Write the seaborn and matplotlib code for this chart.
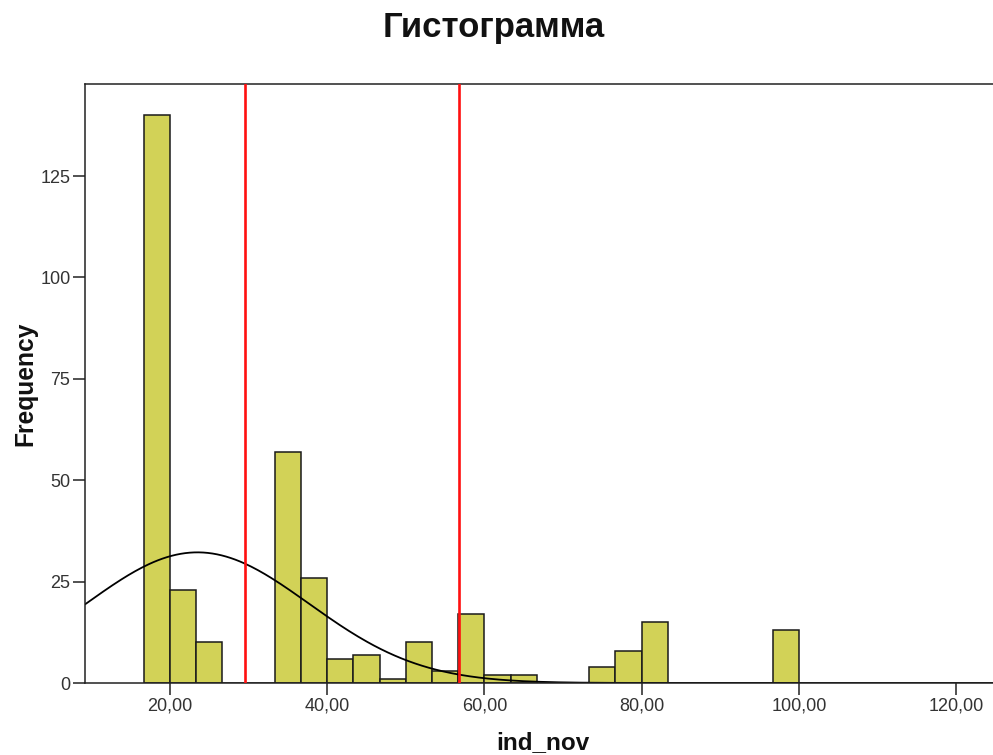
import numpy as np
import pandas as pd
import matplotlib
matplotlib.use("Agg")
import matplotlib.pyplot as plt
from matplotlib.ticker import FixedLocator
import seaborn as sns

# ---- data ----
bin_left = [16.667, 20.0, 23.333, 33.333, 36.667, 40.0, 43.333, 46.667, 50.0,
            53.333, 56.667, 60.0, 63.333, 73.333, 76.667, 80.0, 96.667]
counts = [140, 23, 10, 57, 26, 6, 7, 1, 10, 3, 17, 2, 2, 4, 8, 15, 13]
bin_width = 10 / 3
bin_range = (16.667, 100.0)

normal_mean = 23.5
normal_sd = 14.2

red_lines = [29.6, 56.8]

x_ticks = [20, 40, 60, 80, 100, 120]
x_tick_labels = ["20,00", "40,00", "60,00", "80,00", "100,00", "120,00"]
y_ticks = [0, 25, 50, 75, 100, 125]
y_tick_labels = ["0", "25", "50", "75", "100", "125"]

title = "Гистограмма"
x_label = "ind_nov"
y_label = "Frequency"

# ---- figure ----
sns.set_style("white")
plt.rcParams["font.family"] = ["Liberation Sans", "DejaVu Sans"]

W, H = 993, 755
fig = plt.figure(figsize=(W / 100, H / 100), dpi=100)
ax = fig.add_axes([85 / W, (H - 683) / H, (W - 85) / W, (683 - 84) / H])

df = pd.DataFrame({"x": [b + bin_width / 2 for b in bin_left], "w": counts})
sns.histplot(data=df, x="x", weights="w", binwidth=bin_width, binrange=bin_range,
             color="#d2d257", edgecolor="#1a1a1a", linewidth=1.1, alpha=1.0, ax=ax)

xmin, xmax = 9.19, 124.7
total = sum(counts)
xs = np.linspace(xmin, xmax, 400)
ys = total * bin_width * np.exp(-0.5 * ((xs - normal_mean) / normal_sd) ** 2) / (normal_sd * np.sqrt(2 * np.pi))
sns.lineplot(x=xs, y=ys, color="black", linewidth=1.3, ax=ax)

for v in red_lines:
    ax.axvline(v, color="#ff1010", linewidth=1.9, zorder=5)

ax.set_xlim(xmin, xmax)
ax.set_ylim(0, 147.7)
ax.xaxis.set_major_locator(FixedLocator(x_ticks))
ax.set_xticklabels(x_tick_labels)
ax.yaxis.set_major_locator(FixedLocator(y_ticks))
ax.set_yticklabels(y_tick_labels)
ax.tick_params(axis="both", which="major", direction="out", length=8.5, width=1.1,
               color="#222222", labelsize=13, labelcolor="#333333", pad=2,
               bottom=True, left=True)
ax.set_xlabel("")
ax.set_ylabel("")
for side in ["left", "bottom", "top"]:
    ax.spines[side].set_visible(True)
    ax.spines[side].set_color("#222222")
    ax.spines[side].set_linewidth(1.1)
ax.spines["right"].set_visible(False)

fig.text(494 / W, 1 - 28 / H, title, ha="center", va="center",
         fontsize=25, fontweight="bold", color="#111111")
fig.text(25 / W, 1 - 384 / H, y_label, ha="center", va="center", rotation=90,
         fontsize=17.7, fontweight="bold", color="#111111")
fig.text(543 / W, 1 / H, x_label, ha="center", va="bottom",
         fontsize=17.5, fontweight="bold", color="#111111")

fig.savefig("out.png", dpi=100)
